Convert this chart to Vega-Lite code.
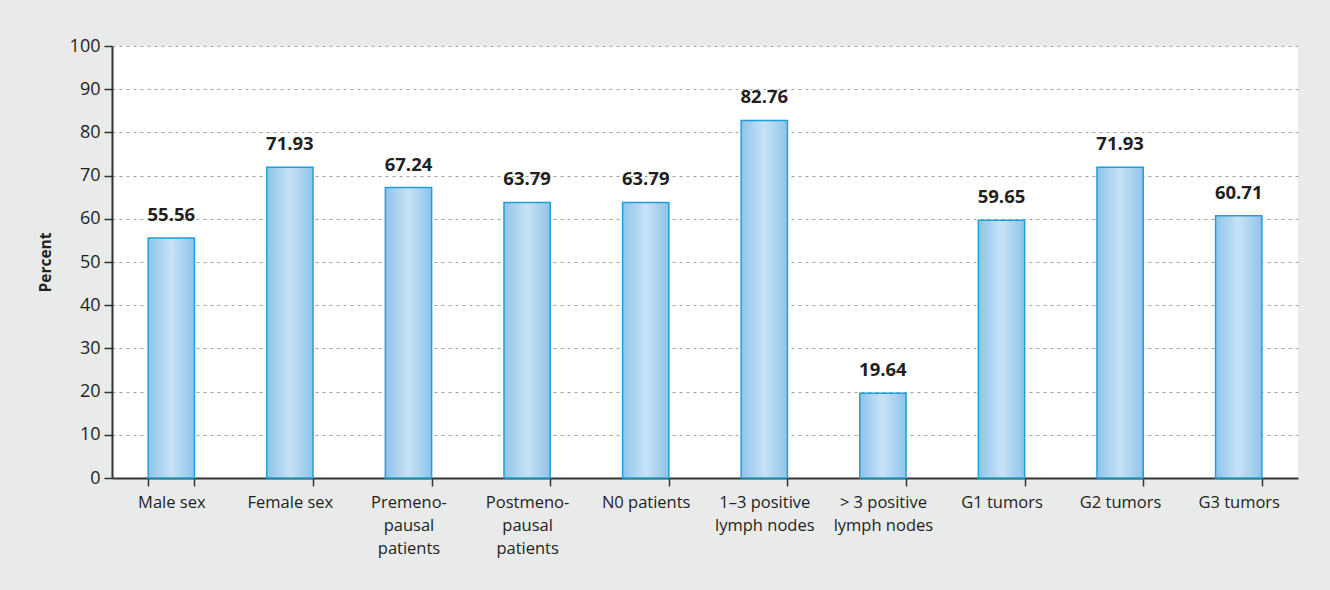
{
  "$schema": "https://vega.github.io/schema/vega-lite/v6.json",
  "width": 1186,
  "height": 432,
  "autosize": {"type": "none"},
  "padding": {"left": 112, "top": 46, "right": 32, "bottom": 112},
  "background": "#e9eaea",
  "config": {
    "view": {"fill": "white", "stroke": null},
    "font": "Open Sans"
  },
  "data": {
    "values": [
      {"group": "Male sex", "percent": 55.56},
      {"group": "Female sex", "percent": 71.93},
      {"group": "Premeno-|pausal|patients", "percent": 67.24},
      {"group": "Postmeno-|pausal|patients", "percent": 63.79},
      {"group": "N0 patients", "percent": 63.79},
      {"group": "1–3 positive|lymph nodes", "percent": 82.76},
      {"group": "> 3 positive|lymph nodes", "percent": 19.64},
      {"group": "G1 tumors", "percent": 59.65},
      {"group": "G2 tumors", "percent": 71.93},
      {"group": "G3 tumors", "percent": 60.71}
    ]
  },
  "encoding": {
    "x": {
      "field": "group",
      "type": "nominal",
      "sort": null,
      "scale": {"paddingInner": 0.61, "paddingOuter": 0.305},
      "axis": {
        "title": null,
        "labelAngle": 0,
        "labelExpr": "split(datum.label, '|')",
        "labelFontSize": 16.5,
        "labelColor": "#231f20",
        "labelPadding": 8,
        "labelLineHeight": 23,
        "labelBaseline": "top",
        "tickBand": "extent",
        "tickSize": 8,
        "tickColor": "#333",
        "tickWidth": 1.5,
        "domainColor": "#333",
        "domainWidth": 2,
        "grid": false
      }
    },
    "y": {
      "field": "percent",
      "type": "quantitative",
      "scale": {"domain": [0, 100]},
      "axis": {
        "title": "Percent",
        "titleFontSize": 15.5,
        "titleFontWeight": "bold",
        "titleColor": "#231f20",
        "titleX": -67,
        "titleY": 216,
        "titleAngle": -90,
        "titleAlign": "center",
        "titleBaseline": "middle",
        "values": [0, 10, 20, 30, 40, 50, 60, 70, 80, 90, 100],
        "labelFontSize": 18,
        "labelColor": "#231f20",
        "labelPadding": 4,
        "tickSize": 8,
        "tickColor": "#333",
        "tickWidth": 1.5,
        "domainColor": "#333",
        "domainWidth": 2,
        "grid": true,
        "gridColor": "#a0a0a0",
        "gridDash": [3, 4],
        "gridWidth": 1
      }
    }
  },
  "layer": [
    {
      "mark": {
        "type": "bar",
        "stroke": "#1e9fdc",
        "strokeWidth": 1.5,
        "fill": {
          "gradient": "linear",
          "x1": 0, "y1": 0, "x2": 1, "y2": 0,
          "stops": [
            {"offset": 0, "color": "#8ec4ea"},
            {"offset": 0.5, "color": "#c8e2f6"},
            {"offset": 1, "color": "#8ec4ea"}
          ]
        }
      }
    },
    {
      "mark": {
        "type": "text",
        "fontSize": 18.5,
        "fontWeight": "bold",
        "color": "#231f20",
        "baseline": "middle",
        "dy": -23
      },
      "encoding": {
        "text": {"field": "percent", "type": "quantitative", "format": ".2f"}
      }
    }
  ]
}
